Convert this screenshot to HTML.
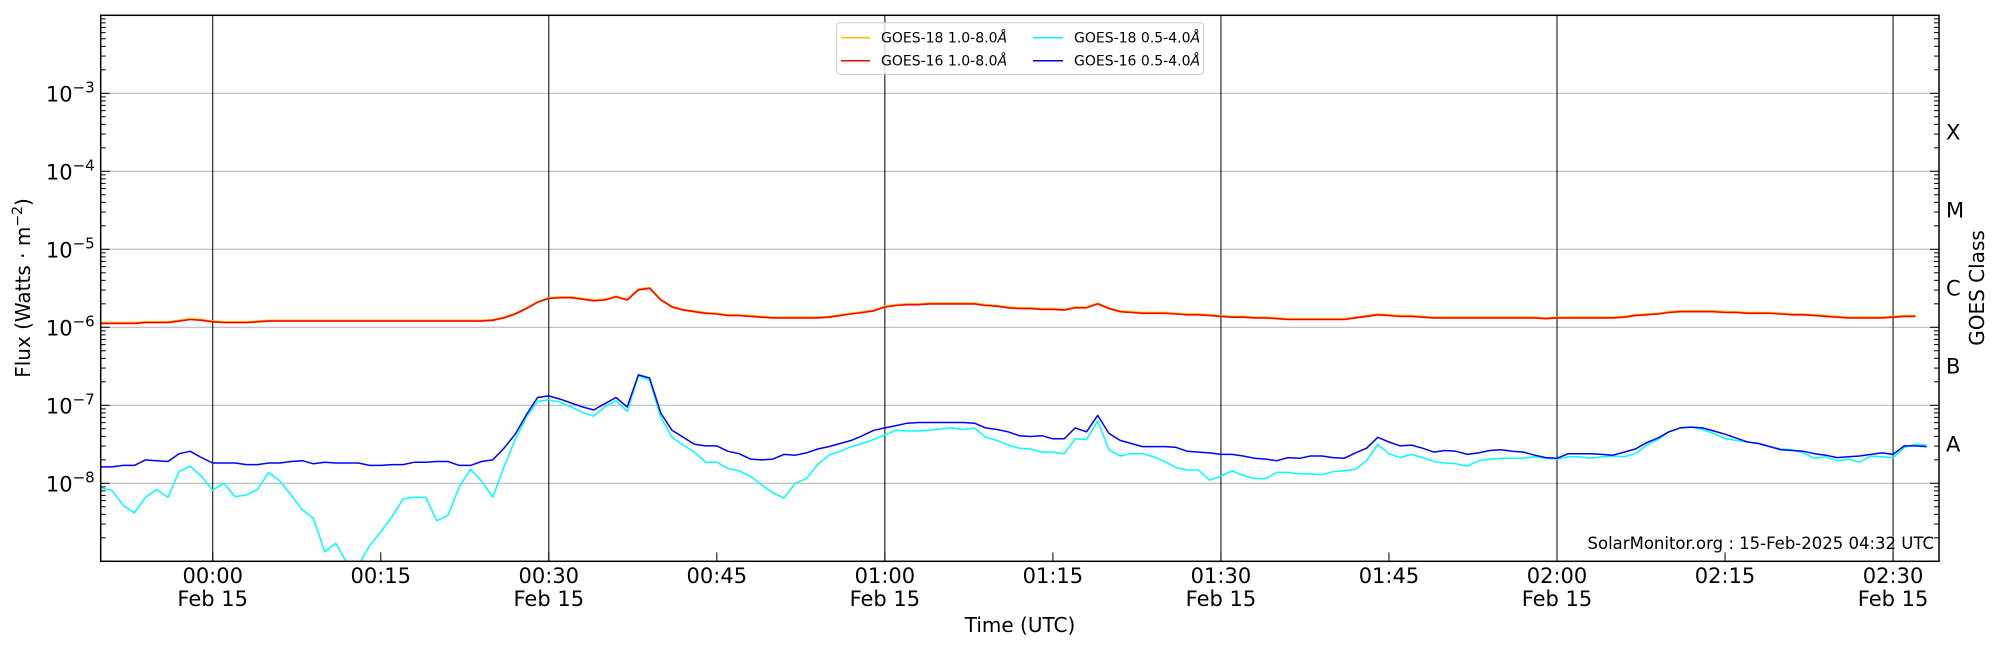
<!DOCTYPE html>
<html><head><meta charset="utf-8"><style>
html,body{margin:0;padding:0;background:#fff;}
svg{display:block;font-family:"DejaVu Sans","Liberation Sans",sans-serif;}
</style></head><body>
<svg id="chart" width="2000" height="650" viewBox="0 0 2000 650" xmlns="http://www.w3.org/2000/svg">
<defs><clipPath id="plotclip"><rect x="100.7" y="15.3" width="1838.3" height="546"/></clipPath></defs>
<g id="grid"></g>
<g id="series" clip-path="url(#plotclip)"></g>
<g id="axes"></g>
<text x="0" y="0" transform="translate(30,288) rotate(-90)" text-anchor="middle" font-size="20">Flux (Watts · m<tspan dy="-8" font-size="14">−2</tspan><tspan dy="8">)</tspan></text>
<text transform="translate(1984,288) rotate(-90)" text-anchor="middle" font-size="20">GOES Class</text>
<text x="1020" y="632" text-anchor="middle" font-size="20">Time (UTC)</text>
<text x="1934" y="549" text-anchor="end" font-size="16.5">SolarMonitor.org : 15-Feb-2025 04:32 UTC</text>
<g>
<rect x="836.7" y="22.7" width="367" height="51.5" rx="3" fill="#fff" fill-opacity="0.8" stroke="#ccc" stroke-width="1"/>
<g><line x1="841" y1="37.7" x2="870" y2="37.7" stroke="#ffc000" stroke-width="1.5"/><text x="881" y="42.5" font-size="14">GOES-18 1.0-8.0<tspan font-style="italic">Å</tspan></text></g>
<g><line x1="841" y1="60.7" x2="870" y2="60.7" stroke="#ff0000" stroke-width="1.5"/><text x="881" y="65.5" font-size="14">GOES-16 1.0-8.0<tspan font-style="italic">Å</tspan></text></g>
<g><line x1="1033" y1="37.7" x2="1063" y2="37.7" stroke="#00ffff" stroke-width="1.5"/><text x="1074" y="42.5" font-size="14">GOES-18 0.5-4.0<tspan font-style="italic">Å</tspan></text></g>
<g><line x1="1033" y1="60.7" x2="1063" y2="60.7" stroke="#0000ff" stroke-width="1.5"/><text x="1074" y="65.5" font-size="14">GOES-16 0.5-4.0<tspan font-style="italic">Å</tspan></text></g>
</g>
</svg>
<script>
// minutes relative to 00:00 UTC Feb 15; one sample per minute starting at startMinute
const startMinute = -10;
// log10 flux (W/m^2), GOES-16 1.0-8.0 A
const goes16LongLog = [-5.95,-5.95,-5.95,-5.95,-5.94,-5.94,-5.94,-5.92,-5.90,-5.91,-5.93,-5.94,-5.94,-5.94,
-5.93,-5.92,-5.92,-5.92,-5.92,-5.92,-5.92,-5.92,-5.92,-5.92,-5.92,-5.92,-5.92,-5.92,-5.92,-5.92,-5.92,-5.92,-5.92,-5.92,-5.92,
-5.91,-5.88,-5.83,-5.76,-5.68,-5.63,-5.62,-5.62,-5.64,-5.66,-5.65,-5.61,-5.65,-5.52,-5.50,-5.65,-5.74,-5.78,-5.80,-5.82,-5.83,
-5.85,-5.85,-5.86,-5.87,-5.88,-5.88,-5.88,-5.88,-5.88,-5.87,-5.85,-5.83,-5.81,-5.79,-5.74,-5.72,-5.71,-5.71,-5.70,-5.70,-5.70,
-5.70,-5.70,-5.72,-5.73,-5.75,-5.76,-5.76,-5.77,-5.77,-5.78,-5.75,-5.75,-5.70,-5.76,-5.80,-5.81,-5.82,-5.82,-5.82,-5.83,-5.84,
-5.84,-5.85,-5.86,-5.87,-5.87,-5.88,-5.88,-5.89,-5.90,-5.90,-5.90,-5.90,-5.90,-5.90,-5.88,-5.86,-5.84,-5.85,-5.86,-5.86,-5.87,
-5.88,-5.88,-5.88,-5.88,-5.88,-5.88,-5.88,-5.88,-5.88,-5.88,-5.89,-5.88,-5.88,-5.88,-5.88,-5.88,-5.88,-5.87,-5.85,-5.84,-5.83,
-5.81,-5.80,-5.80,-5.80,-5.80,-5.81,-5.81,-5.82,-5.82,-5.82,-5.83,-5.84,-5.84,-5.85,-5.86,-5.87,-5.88,-5.88,-5.88,-5.88,-5.87,-5.86,-5.86];
// log10 flux, GOES-18 1.0-8.0 A
const goes18LongLog = [-5.94,-5.94,-5.94,-5.94,-5.93,-5.93,-5.93,-5.91,-5.89,-5.90,-5.92,-5.93,-5.93,-5.93,
-5.92,-5.91,-5.91,-5.91,-5.91,-5.91,-5.91,-5.91,-5.91,-5.91,-5.91,-5.91,-5.91,-5.91,-5.91,-5.91,-5.91,-5.91,-5.91,-5.91,-5.91,
-5.90,-5.87,-5.82,-5.75,-5.67,-5.62,-5.61,-5.61,-5.63,-5.65,-5.64,-5.60,-5.64,-5.51,-5.49,-5.64,-5.73,-5.77,-5.79,-5.81,-5.82,
-5.84,-5.84,-5.85,-5.86,-5.87,-5.87,-5.87,-5.87,-5.87,-5.86,-5.84,-5.82,-5.80,-5.78,-5.73,-5.71,-5.70,-5.70,-5.69,-5.69,-5.69,
-5.69,-5.69,-5.71,-5.72,-5.74,-5.75,-5.75,-5.76,-5.76,-5.77,-5.74,-5.74,-5.69,-5.75,-5.79,-5.80,-5.81,-5.81,-5.81,-5.82,-5.83,
-5.83,-5.84,-5.85,-5.86,-5.86,-5.87,-5.87,-5.88,-5.89,-5.89,-5.89,-5.89,-5.89,-5.89,-5.87,-5.85,-5.83,-5.84,-5.85,-5.85,-5.86,
-5.87,-5.87,-5.87,-5.87,-5.87,-5.87,-5.87,-5.87,-5.87,-5.87,-5.88,-5.87,-5.87,-5.87,-5.87,-5.87,-5.87,-5.86,-5.84,-5.83,-5.82,
-5.80,-5.79,-5.79,-5.79,-5.79,-5.80,-5.80,-5.81,-5.81,-5.81,-5.82,-5.83,-5.83,-5.84,-5.85,-5.86,-5.87,-5.87,-5.87,-5.87,-5.86,-5.85,-5.85];
// log10 flux, GOES-18 0.5-4.0 A
const goes18ShortLog = [-8.06,-8.09,-8.28,-8.38,-8.18,-8.08,-8.18,-7.85,-7.78,-7.91,-8.09,-8.00,-8.17,-8.15,-8.08,-7.86,-7.97,
-8.15,-8.34,-8.45,-8.88,-8.77,-9.03,-9.05,-8.80,-8.62,-8.43,-8.20,-8.18,-8.18,-8.48,-8.41,-8.05,-7.82,-7.97,-8.18,-7.79,-7.44,
-7.15,-6.95,-6.93,-6.96,-7.02,-7.09,-7.14,-7.02,-6.94,-7.08,-6.62,-6.68,-7.15,-7.41,-7.51,-7.60,-7.73,-7.73,-7.81,-7.84,-7.91,
-8.02,-8.12,-8.19,-8.00,-7.94,-7.76,-7.64,-7.59,-7.53,-7.49,-7.44,-7.38,-7.32,-7.33,-7.33,-7.32,-7.30,-7.29,-7.31,-7.29,-7.41,
-7.45,-7.51,-7.55,-7.56,-7.60,-7.60,-7.62,-7.43,-7.44,-7.20,-7.57,-7.65,-7.62,-7.62,-7.66,-7.72,-7.80,-7.83,-7.83,-7.96,-7.91,
-7.84,-7.90,-7.94,-7.94,-7.86,-7.86,-7.88,-7.88,-7.89,-7.85,-7.84,-7.82,-7.71,-7.50,-7.62,-7.67,-7.63,-7.67,-7.72,-7.74,-7.75,
-7.78,-7.71,-7.69,-7.68,-7.68,-7.68,-7.66,-7.68,-7.69,-7.66,-7.66,-7.68,-7.66,-7.65,-7.66,-7.62,-7.51,-7.44,-7.34,-7.29,-7.28,
-7.31,-7.36,-7.43,-7.45,-7.47,-7.49,-7.53,-7.56,-7.57,-7.61,-7.68,-7.66,-7.71,-7.69,-7.73,-7.65,-7.66,-7.67,-7.54,-7.50,-7.51];
// log10 flux, GOES-16 0.5-4.0 A
const goes16ShortLog = [-7.79,-7.79,-7.77,-7.77,-7.70,-7.71,-7.72,-7.62,-7.59,-7.67,-7.74,-7.74,-7.74,-7.76,-7.76,-7.74,-7.74,
-7.72,-7.71,-7.75,-7.73,-7.74,-7.74,-7.74,-7.77,-7.77,-7.76,-7.76,-7.73,-7.73,-7.72,-7.72,-7.77,-7.77,-7.72,-7.70,-7.55,-7.37,
-7.12,-6.90,-6.88,-6.92,-6.97,-7.02,-7.06,-6.98,-6.90,-7.02,-6.61,-6.65,-7.10,-7.32,-7.41,-7.50,-7.52,-7.52,-7.59,-7.62,-7.69,
-7.70,-7.69,-7.63,-7.64,-7.61,-7.56,-7.53,-7.49,-7.45,-7.39,-7.32,-7.29,-7.26,-7.23,-7.22,-7.22,-7.22,-7.22,-7.22,-7.23,-7.29,
-7.31,-7.34,-7.39,-7.40,-7.39,-7.43,-7.43,-7.29,-7.34,-7.13,-7.36,-7.45,-7.49,-7.53,-7.53,-7.53,-7.54,-7.59,-7.60,-7.61,-7.63,
-7.63,-7.65,-7.68,-7.69,-7.71,-7.67,-7.68,-7.65,-7.65,-7.67,-7.68,-7.61,-7.55,-7.41,-7.47,-7.52,-7.51,-7.55,-7.60,-7.58,-7.59,
-7.63,-7.61,-7.58,-7.57,-7.59,-7.60,-7.64,-7.67,-7.68,-7.62,-7.62,-7.62,-7.63,-7.64,-7.60,-7.56,-7.48,-7.42,-7.34,-7.29,-7.28,
-7.29,-7.33,-7.37,-7.42,-7.47,-7.49,-7.53,-7.57,-7.58,-7.59,-7.62,-7.64,-7.67,-7.66,-7.65,-7.63,-7.61,-7.63,-7.52,-7.52,-7.53];
const xTickMinutes = [0,15,30,45,60,75,90,105,120,135,150];
const xTickLabels = ["00:00","00:15","00:30","00:45","01:00","01:15","01:30","01:45","02:00","02:15","02:30"];
const yTickExps = [-3,-4,-5,-6,-7,-8];
const classLabels = ["A","B","C","M","X"];
const classExps = [-8,-7,-6,-5,-4];

const NS = "http://www.w3.org/2000/svg";
const L = 100.7, R = 1939, T = 15.3, B = 561.3;
const xMin = -10, xMax = 154.1, yMin = -9, yMax = -2;
function xs(m){ return L + (m - xMin) / (xMax - xMin) * (R - L); }
function ys(lg){ return B - (lg - yMin) / (yMax - yMin) * (B - T); }
function mk(tag, attrs, parent){ const e = document.createElementNS(NS, tag); for (const k in attrs) e.setAttribute(k, attrs[k]); parent.appendChild(e); return e; }

const grid = document.getElementById('grid');
const axes = document.getElementById('axes');
const series = document.getElementById('series');

for (let e = yMin + 1; e < yMax; e++) {
  const g = mk('line', {x1:L, x2:R, y1:ys(e), y2:ys(e), stroke:'#b0b0b0', 'stroke-width':1}, grid);
  
  
}
xTickMinutes.forEach(m => {
  if (m % 30 === 0) {
    const v = mk('line', {x1:xs(m), x2:xs(m), y1:T, y2:B, stroke:'#000', 'stroke-width':1}, grid);
    
    
  }
});

function drawSeries(arr, color, width, name){
  const pts = arr.map((v,i) => xs(startMinute + i).toFixed(1) + ',' + ys(v).toFixed(1)).join(' ');
  const p = mk('polyline', {points:pts, fill:'none', stroke:color, 'stroke-width':width, 'stroke-linejoin':'round'}, series);
  
  
}
drawSeries(goes18LongLog, '#ffc000', 1.6, 'goes18-long-line');
drawSeries(goes16LongLog, '#ff0000', 1.6, 'goes16-long-line');
drawSeries(goes18ShortLog, '#00ffff', 1.5, 'goes18-short-line');
drawSeries(goes16ShortLog, '#0000ff', 1.5, 'goes16-short-line');

const fr = mk('rect', {x:L, y:T, width:R-L, height:B-T, fill:'none', stroke:'#000', 'stroke-width':1.5}, axes);



for (let e = yMin; e < yMax; e++) {
  for (let k = 1; k <= 9; k++) {
    const lg = e + Math.log10(k);
    const y = ys(lg);
    const len = k === 1 ? 9 : 5;
    mk('line', {x1:L, x2:L+len, y1:y, y2:y, stroke:'#000', 'stroke-width':1}, axes);
    mk('line', {x1:R, x2:R-len, y1:y, y2:y, stroke:'#000', 'stroke-width':1}, axes);
  }
}
yTickExps.forEach(e => {
  const t = mk('text', {x:L-6, y:ys(e)+8, 'text-anchor':'end', 'font-size':21}, axes);
  
  
  const a = document.createElementNS(NS, 'tspan'); a.textContent = '10'; t.appendChild(a);
  const b = document.createElementNS(NS, 'tspan'); b.setAttribute('dy', -9); b.setAttribute('font-size', 15); b.textContent = '−' + Math.abs(e); t.appendChild(b);
});
classLabels.forEach((c, i) => {
  const t = mk('text', {x:R+7, y:ys(classExps[i]+0.5)+7, 'font-size':21}, axes);
  
  
  t.textContent = c;
});
xTickMinutes.forEach((m, i) => {
  mk('line', {x1:xs(m), x2:xs(m), y1:B, y2:B-9, stroke:'#000', 'stroke-width':1}, axes);
  const t = mk('text', {x:xs(m), y:583, 'text-anchor':'middle', 'font-size':21}, axes);
  
  
  t.textContent = xTickLabels[i];
  if (m % 30 === 0) {
    const d = mk('text', {x:xs(m), y:606, 'text-anchor':'middle', 'font-size':21}, axes);
    
    
    d.textContent = 'Feb 15';
  }
});
</script>
</body></html>
